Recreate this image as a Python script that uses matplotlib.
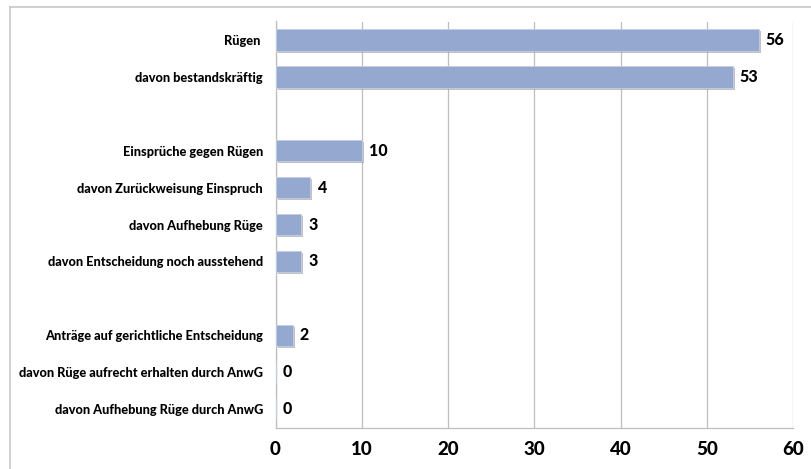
import matplotlib.pyplot as plt
import matplotlib.patheffects as pe
from matplotlib.lines import Line2D

# Kategorien von oben nach unten, leere Einträge sind Trennzeilen
categories = [
    "Rügen ",
    "davon bestandskräftig",
    "",
    "Einsprüche gegen Rügen",
    "davon Zurückweisung Einspruch",
    "davon Aufhebung Rüge",
    "davon Entscheidung noch ausstehend",
    "",
    "Anträge auf gerichtliche Entscheidung",
    "davon Rüge aufrecht erhalten durch AnwG",
    "davon Aufhebung Rüge durch AnwG",
]
values = [56, 53, None, 10, 4, 3, 3, None, 2, 0, 0]
x_ticks = [0, 10, 20, 30, 40, 50, 60]

label_font = ["Lato", "DejaVu Sans"]

fig = plt.figure(figsize=(8.11, 4.69), dpi=100)
ax = fig.add_axes([275.5 / 811, 1 - 427.5 / 469, (793 - 275.5) / 811, (427.5 - 21.5) / 469])

ypos = list(range(len(categories)))
for y, v in zip(ypos, values):
    if v is None:
        continue
    ax.barh(y, v, height=0.58, color="#94A8D0", edgecolor="#C3CEE6", linewidth=0.6,
            zorder=3,
            path_effects=[pe.SimplePatchShadow(offset=(1.5, -1.5), shadow_rgbFace="#9a9a9a", alpha=0.6),
                          pe.Normal()])
    ax.text(v + 0.8, y, str(v), va="center", ha="left", fontsize=11.5,
            fontweight="black", family=label_font, zorder=4)

ax.set_ylim(len(categories) - 0.5, -0.5)
ax.set_xlim(0, 60)
ax.set_yticks(ypos)
ax.set_yticklabels(categories, fontsize=9.2, fontweight="black", family=label_font)
ax.tick_params(axis="y", length=0, pad=9)
ax.set_xticks(x_ticks)
ax.set_xticklabels([str(t) for t in x_ticks], fontsize=13.5, fontweight="black", family=label_font)
ax.tick_params(axis="x", length=0, pad=10)

ax.grid(axis="x", color="#BEBEBE", linewidth=0.9, zorder=0)
for side in ["top", "right"]:
    ax.spines[side].set_visible(False)
for side in ["left", "bottom"]:
    ax.spines[side].set_color("#BEBEBE")
    ax.spines[side].set_linewidth(0.9)

# Rahmen um das Diagramm (oben und links)
fig.add_artist(Line2D([10 / 811, 1], [1 - 7 / 469, 1 - 7 / 469], color="#C8C8C8", linewidth=1.2))
fig.add_artist(Line2D([10 / 811, 10 / 811], [0, 1 - 7 / 469], color="#C8C8C8", linewidth=1.2))

fig.savefig("out.png", dpi=100)
